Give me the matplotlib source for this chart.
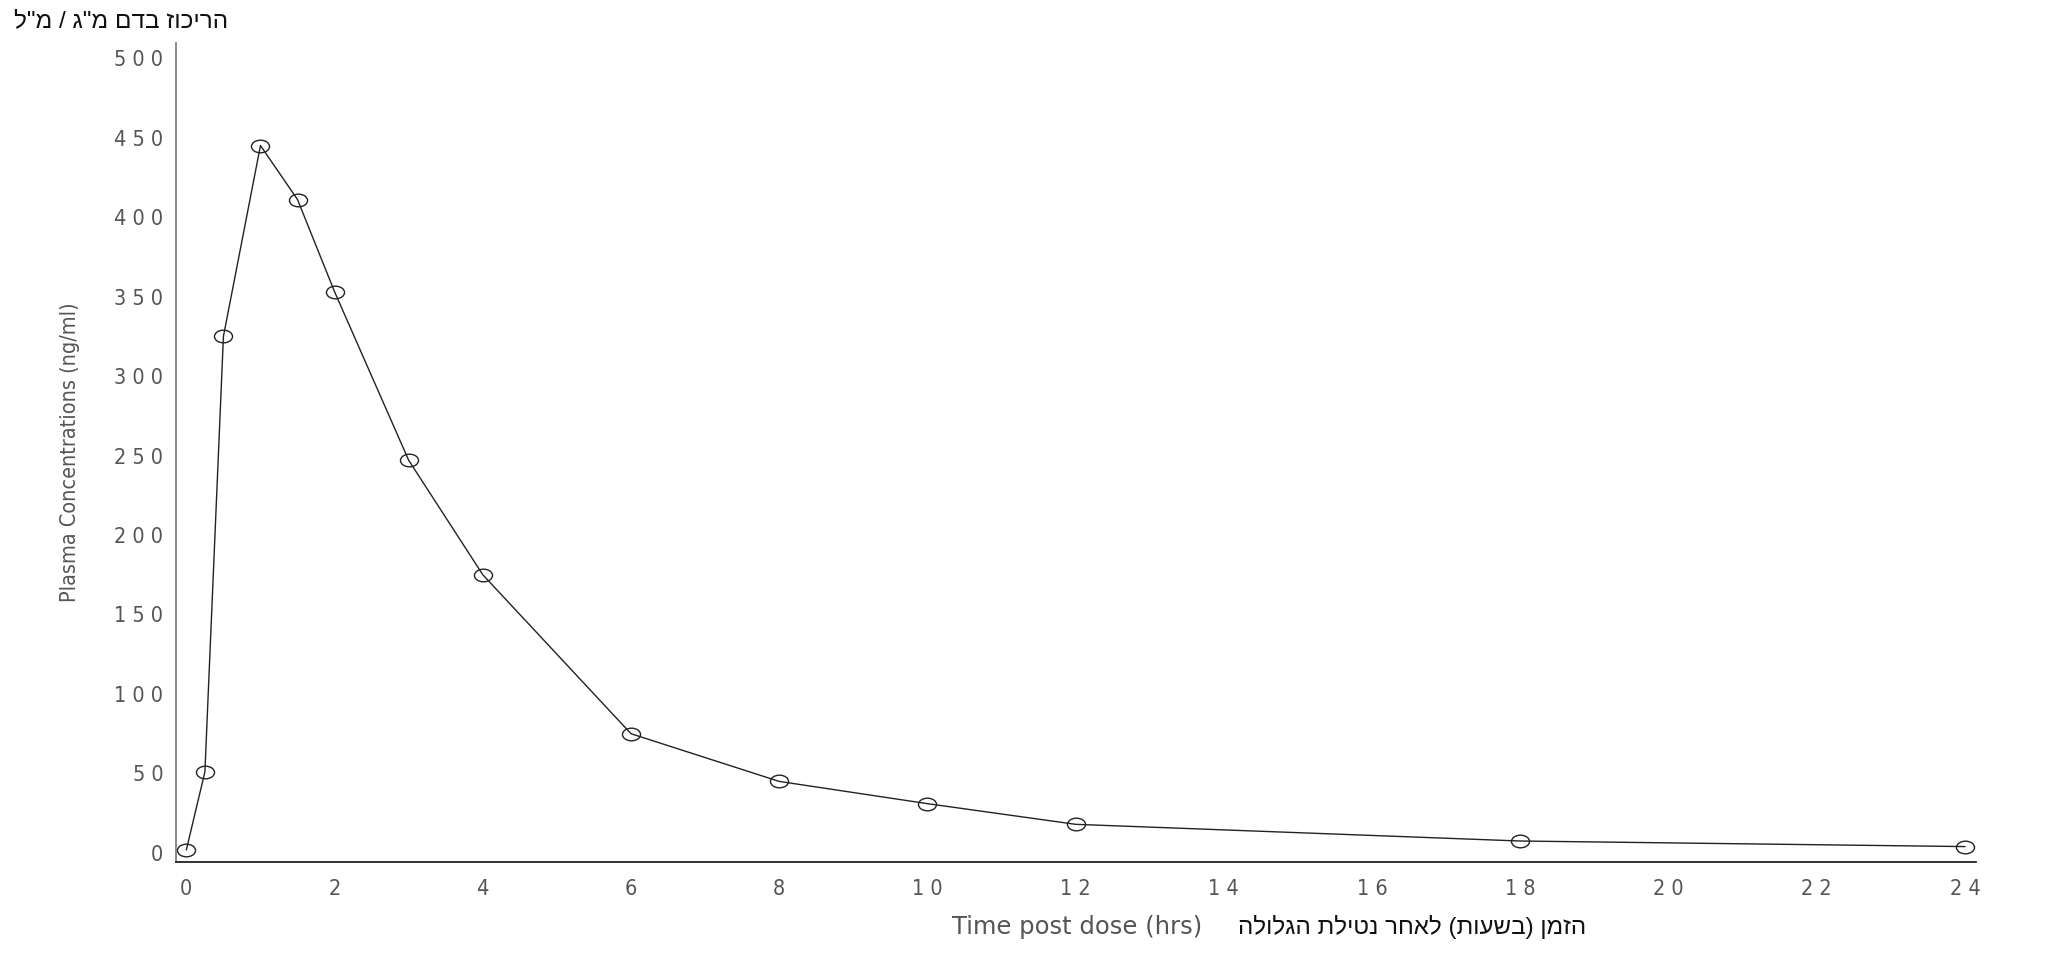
import numpy as np
import matplotlib
matplotlib.use('Agg')
import matplotlib.pyplot as plt
from matplotlib.path import Path
from matplotlib.transforms import Affine2D

# time after dose (hrs) and plasma concentration (ng/ml)
time_hrs = [0, 0.25, 0.5, 1, 1.5, 2, 3, 4, 6, 8, 10, 12, 18, 24]
conc = [2, 51, 325, 445, 411, 353, 247, 175, 75, 45, 31, 18, 7.5, 4]

x_ticks = list(range(0, 25, 2))
y_ticks = list(range(0, 501, 50))

y_label = 'Plasma Concentrations (ng/ml)'
x_label = 'Time post dose (hrs)'
x_label_he = 'הזמן (בשעות) לאחר נטילת הגלולה'
y_label_he = 'הריכוז בדם מ"ג / מ"ל'

W, H = 2048, 966


def visual(s):
    # matplotlib has no bidi: reverse the logical order and mirror brackets
    swap = {'(': ')', ')': '('}
    return ''.join(swap.get(c, c) for c in s[::-1])


def spaced(v):
    return ' '.join(str(v))


he_font = ['Liberation Sans', 'DejaVu Sans']

fig = plt.figure(figsize=(W / 100, H / 100), dpi=100)
ax = fig.add_axes([176 / W, 1 - 862 / H, 1800 / W, 819 / H])

# open ellipse marker, wider than tall
ell = Path.unit_circle().transformed(Affine2D().scale(1.0, 0.7))
ax.plot(time_hrs, conc, color='#222222', lw=1.0, marker=ell, markersize=13,
        markerfacecolor='none', markeredgecolor='#222222', markeredgewidth=1.0)

ax.set_xlim(-0.14, 24.15)
ax.set_ylim(-5.7, 509.5)

ax.set_xticks(x_ticks)
ax.set_xticklabels([spaced(v) for v in x_ticks])
ax.set_yticks(y_ticks)
ax.set_yticklabels([spaced(v) for v in y_ticks])
ax.tick_params(axis='both', length=0, labelsize=15.5, labelcolor='#555555')
ax.tick_params(axis='y', pad=9)
ax.tick_params(axis='x', pad=12)
for lab in ax.get_xticklabels() + ax.get_yticklabels():
    lab.set_family('DejaVu Sans')
    lab.set_fontstretch('condensed')

for side in ['top', 'right']:
    ax.spines[side].set_visible(False)
ax.spines['left'].set_color('#808080')
ax.spines['left'].set_linewidth(1.3)
ax.spines['bottom'].set_color('#222222')
ax.spines['bottom'].set_linewidth(1.3)

fig.text(70 / W, 1 - 452 / H, y_label, rotation=90, ha='center', va='center',
         fontsize=15.5, color='#555555', family='DejaVu Sans', stretch='condensed')
fig.text(1202 / W, 1 - 927 / H, x_label, ha='right', va='center',
         fontsize=17.5, color='#555555', family='DejaVu Sans')
fig.text(1238 / W, 1 - 927 / H, visual(x_label_he), ha='left', va='center',
         fontsize=17.4, color='#111111', family=he_font)
fig.text(14 / W, 1 - 21 / H, visual(y_label_he), ha='left', va='center',
         fontsize=17.6, color='#111111', family=he_font)

fig.savefig('out.png', dpi=100, facecolor='white')
